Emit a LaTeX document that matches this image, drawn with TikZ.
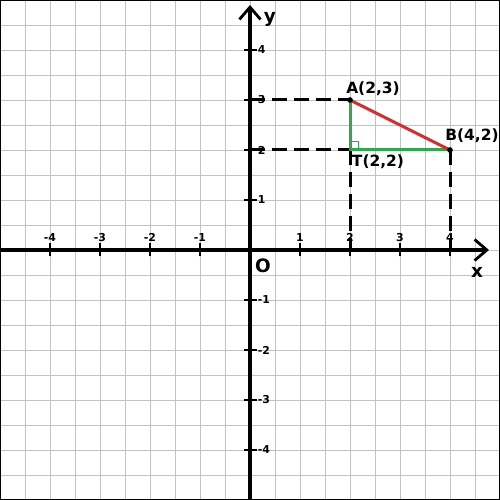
\documentclass[tikz,border=0pt]{standalone}
\usepackage{fontspec}
\setmainfont{DejaVu Sans}
\usepackage{tikz}
\usetikzlibrary{arrows.meta, positioning, calc}

\definecolor{segred}{RGB}{220,45,45}
\definecolor{seggreen}{RGB}{45,170,75}

\begin{document}
\begin{tikzpicture}[
    gridline/.style={draw=black!24, line width=0.55pt},
    axis/.style={line width=2.5pt, -{Straight Barb[length=7pt, width=12pt, line width=1.6pt]}},
    tick/.style={line width=1pt},
    ticklabel/.style={font=\fontsize{6.2}{6.2}\selectfont\bfseries, inner sep=0pt},
    guide/.style={line width=1.7pt, dash pattern=on 8.5pt off 4pt},
    axislabel/.style={font=\fontsize{10.5}{10.5}\selectfont\bfseries, inner sep=0pt},
    ptlabel/.style={font=\fontsize{8.8}{8.8}\selectfont\bfseries, inner sep=0pt},
    seg/.style={line width=1.7pt}
]
    \useasboundingbox (-5,-5) rectangle (5,5);

    % Grid and frame
    \draw[gridline] (-5,-5) grid[step=0.5] (5,5);
    \draw[line width=1.2pt] (-5,-5) rectangle (5,5);

    % Axes
    \coordinate (xstart) at (-5,0);
    \coordinate (xend) at (4.78,0);
    \coordinate (ystart) at (0,-5);
    \coordinate (yend) at (0,4.9);
    \draw[axis] (xstart) -- (xend);
    \draw[axis] (ystart) -- (yend);
    \node[axislabel] (xlab) at (4.54,-0.44) {x};
    \node[axislabel] (ylab) at (0.4,4.62) {y};
    \node[axislabel] (orig) at (0.26,-0.32) {O};

    % Ticks and numbers
    \foreach \i in {-4,-3,-2,-1,1,2,3,4} {
        \draw[tick] (\i,-0.13) -- (\i,0.13);
        \draw[tick] (-0.13,\i) -- (0.13,\i);
        \node[ticklabel] (xt\i) at (\i,0.25) {\i};
        \node[ticklabel, anchor=west] (yt\i) at (0.15,\i) {\i};
    }

    % Points
    \coordinate (A) at (2,3);
    \coordinate (B) at (4,2);
    \coordinate (T) at (2,2);
    \coordinate (Ax) at (0,3);
    \coordinate (Ty) at (0,2);
    \coordinate (Tx) at (2,0);
    \coordinate (Bx) at (4,0);

    % Projections
    \draw[guide] (Ax) -- (A);
    \draw[guide] (Ty) -- (T);
    \draw[guide] (T) -- (Tx);
    \draw[guide] (B) -- (Bx);

    % Triangle
    \draw[seg, seggreen] (A) -- (T) -- (B);
    \draw[seggreen, line width=0.6pt] ($(T)+(0,0.17)$) -| ($(T)+(0.17,0)$);
    \draw[seg, segred] (A) -- (B);
    \fill (A) circle (1.6pt);
    \fill (B) circle (1.6pt);

    % Point labels
    \node[ptlabel] (Alab) at (2.46,3.22) {A(2,3)};
    \node[ptlabel] (Blab) at (4.44,2.28) {B(4,2)};
    \node[ptlabel] (Tlab) at (2.56,1.76) {T(2,2)};
\end{tikzpicture}
\end{document}
